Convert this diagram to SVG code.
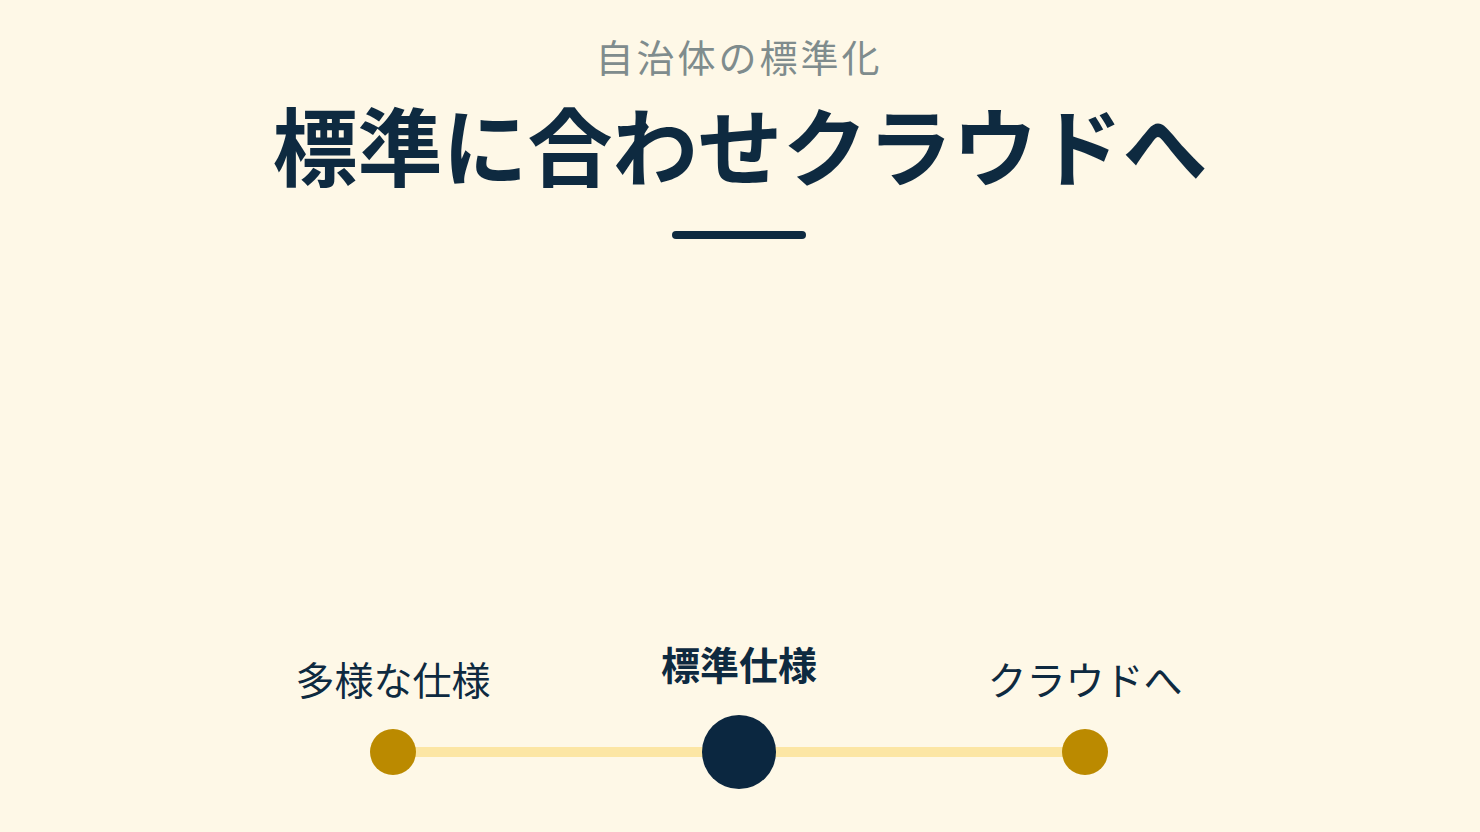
<svg xmlns="http://www.w3.org/2000/svg" width="1480" height="832" viewBox="0 0 1480 832">
<style>
.t{font-family:"Noto Sans CJK JP","Noto Sans CJK SC",sans-serif;text-anchor:middle}
.lbl{font-size:39px;fill:#0E2A40}
</style>
<rect width="1480" height="832" fill="#FEF8E7"/>
<g id="header">
<text class="t" x="739" y="72" font-size="38" letter-spacing="3" fill="#7F8C8D">自治体の標準化</text>
<text class="t" x="740" y="180" font-size="85" font-weight="bold" fill="#0E2A40">標準に合わせクラウドへ</text>
<line x1="676" y1="235" x2="802" y2="235" stroke="#0E2A40" stroke-width="8" stroke-linecap="round"/>
</g>
<g id="connectors">
<line x1="393" y1="752" x2="1085" y2="752" stroke="#FCE6A4" stroke-width="10"/>
</g>
<g id="node-1">
<circle cx="393" cy="752" r="23" fill="#BB8A00"/>
<text class="t lbl" x="393" y="695">多様な仕様</text>
</g>
<g id="node-2">
<circle cx="739" cy="752" r="37" fill="#0B2740"/>
<text class="t lbl" x="739" y="680" font-weight="bold">標準仕様</text>
</g>
<g id="node-3">
<circle cx="1085" cy="752" r="23" fill="#BB8A00"/>
<text class="t lbl" x="1085" y="695">クラウドへ</text>
</g>
</svg>
